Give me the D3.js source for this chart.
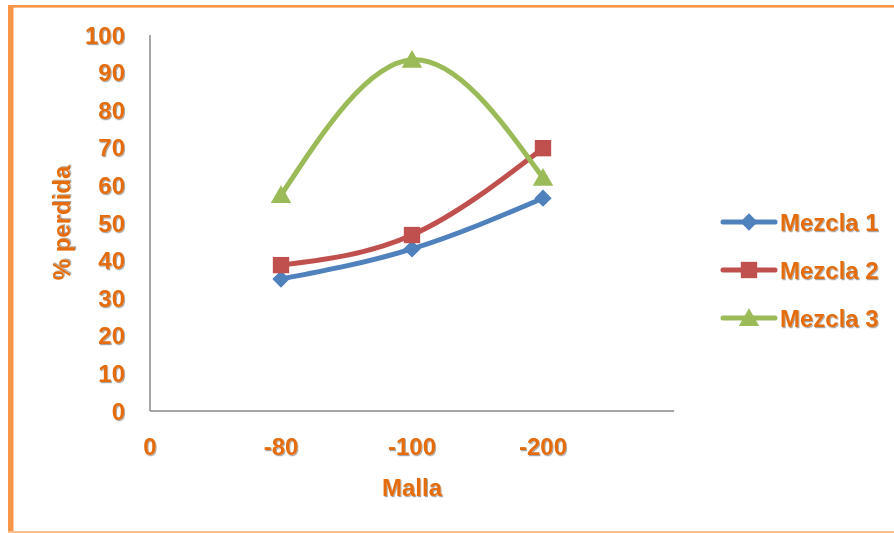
<!DOCTYPE html>
<html>
<head>
<meta charset="utf-8">
<script src="https://cdn.jsdelivr.net/npm/d3@7/dist/d3.min.js"></script>
<style>
  html, body { margin: 0; padding: 0; background: #fff; }
  svg { display: block; }
  text { font-family: "Liberation Sans", Arial, sans-serif; font-weight: bold; }
</style>
</head>
<body>
<svg id="chart" width="894" height="533"></svg>
<script>
// Mesh sizes (x categories) and loss percentages per mixture
const xTickLabels = ["0", "-80", "-100", "-200"];
const categories = ["-80", "-100", "-200"];
const mezcla1 = [35.1, 43.1, 56.6];
const mezcla2 = [38.8, 46.8, 69.9];
const mezcla3 = [57.4, 93.4, 62.0];
const yTicks = [0, 10, 20, 30, 40, 50, 60, 70, 80, 90, 100];
const seriesNames = ["Mezcla 1", "Mezcla 2", "Mezcla 3"];
const seriesColors = ["#4F81BD", "#C0504D", "#9BBB59"];
const seriesValues = [mezcla1, mezcla2, mezcla3];
const markerTypes = ["diamond", "square", "triangle"];

const svg = d3.select("#chart");
const textColor = "#E46C0A";

// soft drop shadow used by the orange labels
const defs = svg.append("defs");
const f = defs.append("filter").attr("id", "shadow")
  .attr("x", "-10%").attr("y", "-10%").attr("width", "130%").attr("height", "140%");
f.append("feDropShadow").attr("dx", 1).attr("dy", 1.2)
  .attr("stdDeviation", 0.7).attr("flood-color", "#000").attr("flood-opacity", 0.35);

// outer frame
svg.append("rect").attr("x", 0).attr("y", 0).attr("width", 894).attr("height", 533).attr("fill", "#fff");
svg.append("rect").attr("x", 8).attr("y", 5).attr("width", 5.5).attr("height", 528).attr("fill", "#F79646");
svg.append("rect").attr("x", 8).attr("y", 5).attr("width", 886).attr("height", 2.6).attr("fill", "#F79646");
svg.append("rect").attr("x", 8).attr("y", 531).attr("width", 886).attr("height", 2).attr("fill", "#FBC08D");

// scales
const x = d3.scaleLinear().domain([0, 4]).range([150, 674]);
const y = d3.scaleLinear().domain([0, 100]).range([411, 35]);

// axes lines
svg.append("line").attr("x1", x(0)).attr("x2", x(0)).attr("y1", y(100)).attr("y2", y(0))
  .attr("stroke", "#898989").attr("stroke-width", 1.5);
svg.append("line").attr("x1", x(0)).attr("x2", x(4)).attr("y1", y(0)).attr("y2", y(0))
  .attr("stroke", "#898989").attr("stroke-width", 1.5);

const labelStyle = sel => sel.attr("fill", textColor).attr("filter", "url(#shadow)")
  .attr("font-size", 24);

// y tick labels
svg.append("g").selectAll("text").data(yTicks).join("text")
  .attr("x", 125).attr("y", d => y(d)).attr("dy", "0.36em")
  .attr("text-anchor", "end").text(d => d).call(labelStyle);

// x tick labels
svg.append("g").selectAll("text").data(xTickLabels).join("text")
  .attr("x", (d, i) => x(i)).attr("y", 455)
  .attr("text-anchor", "middle").text(d => d).call(labelStyle);

// axis titles
svg.append("text").attr("x", 412).attr("y", 496).attr("text-anchor", "middle")
  .text("Malla").call(labelStyle);
svg.append("text").attr("transform", "translate(70,223) rotate(-90)")
  .attr("text-anchor", "middle").text("% perdida").call(labelStyle);

// marker symbols
const symbolFor = {
  diamond: d3.symbol().type(d3.symbolDiamond2).size(190),
  square: d3.symbol().type(d3.symbolSquare2).size(340),
  triangle: d3.symbol().type(d3.symbolTriangle2).size(300)
};
function drawMarker(sel, type, color) {
  sel.append("path").attr("d", symbolFor[type]()).attr("fill", color)
    .attr("transform", type === "triangle" ? "translate(0,2)" : null);
}

// series lines (smoothed) and markers
const line = d3.line()
  .x((d, i) => x(i + 1)).y(d => y(d))
  .curve(d3.curveNatural);

seriesValues.forEach((vals, si) => {
  svg.append("path").datum(vals).attr("d", line)
    .attr("fill", "none").attr("stroke", seriesColors[si])
    .attr("stroke-width", 5).attr("stroke-linecap", "round").attr("stroke-linejoin", "round");
});
seriesValues.forEach((vals, si) => {
  vals.forEach((v, i) => {
    const m = svg.append("g").attr("transform", `translate(${x(i + 1)},${y(v)})`);
    drawMarker(m, markerTypes[si], seriesColors[si]);
  });
});

// legend
const legendY = [222, 270, 318];
seriesNames.forEach((name, si) => {
  const lg = svg.append("g").attr("transform", `translate(0,${legendY[si]})`);
  lg.append("line").attr("x1", 723).attr("x2", 775).attr("y1", 0).attr("y2", 0)
    .attr("stroke", seriesColors[si]).attr("stroke-width", 5).attr("stroke-linecap", "round");
  const m = lg.append("g").attr("transform", "translate(749,0)");
  drawMarker(m, markerTypes[si], seriesColors[si]);
  lg.append("text").attr("x", 780).attr("y", 0).attr("dy", "0.36em")
    .text(name).call(labelStyle);
});
</script>
</body>
</html>
